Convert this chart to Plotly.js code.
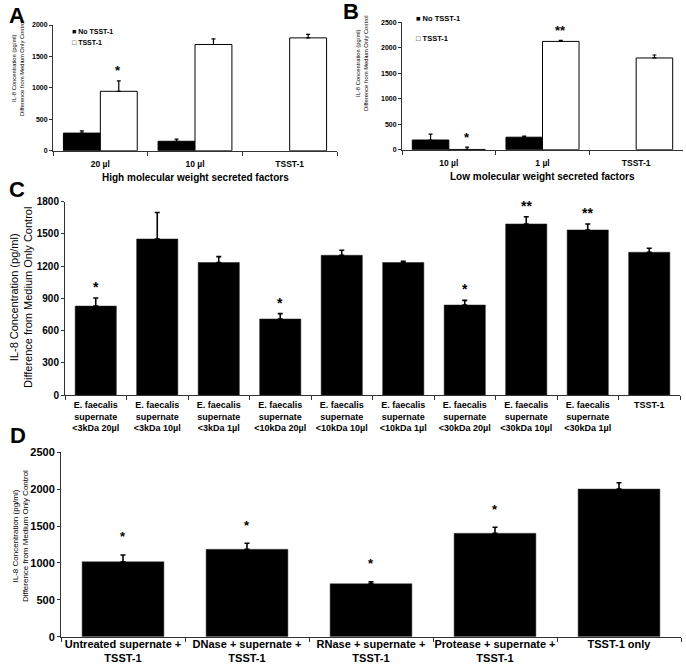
<!DOCTYPE html>
<html>
<head>
<meta charset="utf-8">
<script src="https://cdn.plot.ly/plotly-3.0.1.min.js"></script>
<style>html,body{margin:0;padding:0;background:#fff;}#chart{width:686px;height:671px;}</style>
</head>
<body>
<div id="chart"></div>
<script>
// ---- Panel A data ----
const catsA = ['20 µl', '10 µl', 'TSST-1'];
const noTsstA = [280, 150, null];
const noTsstAErr = [35, 35, null];
const tsstA = [945, 1690, 1795];
const tsstAErr = [165, 90, 55];
const starsNoA = ['', '', ''];
const starsTsstA = ['*', '', ''];

// ---- Panel B data ----
const catsB = ['10 µl', '1 µl', 'TSST-1'];
const noTsstB = [190, 245, null];
const noTsstBErr = [115, 20, null];
const tsstB = [5, 2125, 1800];
const tsstBErr = [45, 20, 58];
const starsNoB = ['', '', ''];
const starsTsstB = ['*', '**', ''];

// ---- Panel C data ----
const catsC = [
  'E. faecalis<br>supernate<br>&lt;3kDa 20µl',
  'E. faecalis<br>supernate<br>&lt;3kDa 10µl',
  'E. faecalis<br>supernate<br>&lt;3kDa 1µl',
  'E. faecalis<br>supernate<br>&lt;10kDa 20µl',
  'E. faecalis<br>supernate<br>&lt;10kDa 10µl',
  'E. faecalis<br>supernate<br>&lt;10kDa 1µl',
  'E. faecalis<br>supernate<br>&lt;30kDa 20µl',
  'E. faecalis<br>supernate<br>&lt;30kDa 10µl',
  'E. faecalis<br>supernate<br>&lt;30kDa 1µl',
  'TSST-1'
];
const valsC = [828, 1453, 1234, 708, 1301, 1234, 838, 1593, 1537, 1329];
const errC = [75, 247, 55, 50, 47, 12, 43, 67, 56, 37];
const starsC = ['*', '', '', '*', '', '', '*', '**', '**', ''];

// ---- Panel D data ----
const catsD = [
  'Untreated supernate +<br>TSST-1',
  'DNase + supernate +<br>TSST-1',
  'RNase + supernate +<br>TSST-1',
  'Protease + supernate +<br>TSST-1',
  'TSST-1 only'
];
const valsD = [1017, 1185, 719, 1402, 2002];
const errD = [91, 81, 27, 81, 86];
const starsD = ['*', '*', '*', '*', ''];

const zeros3 = [0, 0, 0];
const zeros10 = [0, 0, 0, 0, 0, 0, 0, 0, 0, 0];
const zeros5 = [0, 0, 0, 0, 0];

const W = 686, H = 671;
const fx = p => p / W;
const fy = p => 1 - p / H;
const FONT = 'Liberation Sans, Arial, sans-serif';

function errUp(arr, minus, w, t) {
  return {type: 'data', symmetric: false, array: arr, arrayminus: minus, color: '#000', thickness: t, width: w};
}

const traces = [
  {type: 'bar', x: catsA, y: noTsstA, xaxis: 'x', yaxis: 'y', name: 'No TSST-1',
   marker: {color: '#000', line: {color: '#000', width: 1}}, error_y: errUp(noTsstAErr, zeros3, 2, 1.2)},
  {type: 'bar', x: catsA, y: tsstA, xaxis: 'x', yaxis: 'y', name: 'TSST-1',
   marker: {color: '#fff', line: {color: '#000', width: 1}}, error_y: errUp(tsstAErr, zeros3, 2, 1.2)},
  {type: 'bar', x: catsB, y: noTsstB, xaxis: 'x2', yaxis: 'y2', name: 'No TSST-1',
   marker: {color: '#000', line: {color: '#000', width: 1}}, error_y: errUp(noTsstBErr, zeros3, 2, 1.2)},
  {type: 'bar', x: catsB, y: tsstB, xaxis: 'x2', yaxis: 'y2', name: 'TSST-1',
   marker: {color: '#fff', line: {color: '#000', width: 1}}, error_y: errUp(tsstBErr, zeros3, 2, 1.2)},
  {type: 'bar', x: catsC, y: valsC, xaxis: 'x3', yaxis: 'y3', width: 0.67,
   marker: {color: '#000', line: {color: '#222', width: 0.5}}, error_y: errUp(errC, zeros10, 2.5, 1.6)},
  {type: 'bar', x: catsD, y: valsD, xaxis: 'x4', yaxis: 'y4', width: 0.66,
   marker: {color: '#000', line: {color: '#444', width: 0.5}}, error_y: errUp(errD, zeros5, 2.5, 1.6)}
];

function xax(dom, anchor, fsize, standoff) {
  return {domain: dom, anchor: anchor, type: 'category', showline: true, linecolor: '#333', linewidth: 1,
    ticks: 'outside', tickson: 'boundaries', ticklen: 4, tickcolor: '#333', showgrid: false, zeroline: false,
    tickangle: 0, ticklabelstandoff: standoff,
    tickfont: {family: FONT, size: fsize, color: '#000', weight: 'bold'}, fixedrange: true};
}
function yax(dom, anchor, rng, dt, fsize) {
  return {domain: dom, anchor: anchor, range: rng, dtick: dt, tick0: 0, showline: true, linecolor: '#333', linewidth: 1,
    ticks: 'outside', ticklen: 3, tickcolor: '#333', showgrid: false, zeroline: false,
    tickfont: {family: FONT, size: fsize, color: '#000', weight: 'bold'}, fixedrange: true};
}

const ann = [];
function txt(x, y, text, size, opts) {
  ann.push(Object.assign({xref: 'paper', yref: 'paper', x: fx(x), y: fy(y), text: text, showarrow: false,
    xanchor: 'center', yanchor: 'middle', font: {family: FONT, size: size, color: '#000'}}, opts || {}));
}
// panel letters
txt(17, 15, '<b>A</b>', 22);
txt(351, 12, '<b>B</b>', 22);
txt(17, 189, '<b>C</b>', 22);
txt(18, 435, '<b>D</b>', 22);
// y titles
const yt = 'IL-8 Concentration (pg/ml)<br>Difference from Medium Only Control';
txt(18, 68, yt, 5.8, {textangle: -90});
txt(362, 63, yt, 5.8, {textangle: -90});
txt(21, 298, yt, 11, {textangle: -90});
txt(20, 536, yt, 8, {textangle: -90});
// x titles
txt(195, 177.5, '<b>High molecular weight secreted factors</b>', 10);
txt(542, 176.5, '<b>Low molecular weight secreted factors</b>', 10);
// legends
txt(70, 32, '<b>■ No TSST-1</b>', 7, {xanchor: 'left'});
txt(70, 42, '<b>□ TSST-1</b>', 7, {xanchor: 'left'});
txt(414, 18, '<b>■ No TSST-1</b>', 7.5, {xanchor: 'left'});
txt(414, 38, '<b>□ TSST-1</b>', 7.5, {xanchor: 'left'});

// significance stars (placed above the error bars, through the data axes)
function stars(cats, vals, errs, marks, xr, yr, shiftX, ys, size) {
  cats.forEach((c, i) => {
    if (!marks[i]) return;
    ann.push({xref: xr, yref: yr, x: c, y: vals[i] + errs[i], text: '<b>' + marks[i] + '</b>', showarrow: false,
      xanchor: 'center', yanchor: 'middle', xshift: shiftX, yshift: ys, font: {family: FONT, size: size, color: '#000'}});
  });
}
stars(catsA, tsstA, tsstAErr, starsTsstA, 'x', 'y', 18, 10, 13);
stars(catsB, tsstB, tsstBErr, starsTsstB, 'x2', 'y2', 18, 10, 13);
stars(catsC, valsC, errC, starsC, 'x3', 'y3', 0, 11, 14);
stars(catsD, valsD, errD, starsD, 'x4', 'y4', 0, 18, 13);

const layout = {
  width: W, height: H, margin: {l: 0, r: 0, t: 0, b: 0}, paper_bgcolor: '#fff', plot_bgcolor: 'rgba(0,0,0,0)',
  showlegend: false, barmode: 'group', bargap: 0.22, bargroupgap: 0,
  font: {family: FONT, color: '#000'},
  xaxis: xax([fx(53), fx(337)], 'y', 8.5, 5),
  yaxis: yax([fy(150.7), fy(25)], 'x', [0, 2000], 500, 7),
  xaxis2: xax([fx(402), fx(683)], 'y2', 8.5, 5),
  yaxis2: yax([fy(149.7), fy(22.3)], 'x2', [0, 2500], 500, 7),
  xaxis3: xax([fx(65), fx(680)], 'y3', 9, 1),
  yaxis3: yax([fy(395), fy(201.7)], 'x3', [0, 1800], 300, 10),
  xaxis4: xax([fx(61), fx(681)], 'y4', 11, -3),
  yaxis4: yax([fy(636.7), fy(452.3)], 'x4', [0, 2500], 500, 11),
  annotations: ann
};
Plotly.newPlot('chart', traces, layout, {staticPlot: true, displayModeBar: false});
</script>
</body>
</html>
